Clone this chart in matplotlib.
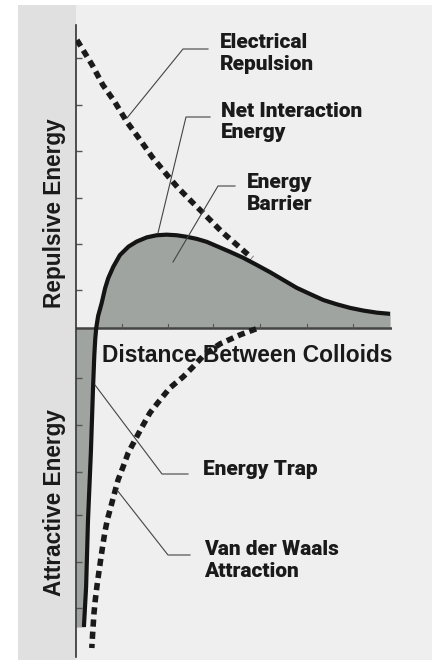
import matplotlib
matplotlib.use('Agg')
import matplotlib.pyplot as plt
from matplotlib.patches import Rectangle

# curves (distance 0-100, energy in arbitrary units)
rep_x = [0.3, 5.1, 8.5, 12.3, 16.1, 20.3, 24.1, 28.8, 32.3, 37.0, 41.5, 46.2, 50.9, 55.7]
rep_y = [96.0, 87.7, 81.0, 75.3, 68.7, 62.7, 57.0, 51.0, 46.7, 41.7, 37.0, 32.0, 27.7, 23.3]

vdw_x = [57.0, 51.9, 45.6, 40.8, 37.0, 33.9, 29.7, 26.6, 23.4, 20.9, 18.7, 16.5, 14.9, 13.3,
         12.2, 11.0, 9.9, 9.1, 8.4, 7.8, 7.2, 6.6, 6.1, 5.7, 5.3, 5.0]
vdw_y = [-0.3, -2.3, -5.3, -8.7, -13.0, -16.3, -20.0, -24.0, -28.3, -33.0, -37.3, -41.7, -46.3, -50.7,
         -55.0, -59.7, -64.0, -68.3, -73.0, -77.3, -81.7, -86.3, -90.7, -95.0, -101.3, -106.7]

net_x = [2.5, 3.2, 3.8, 4.7, 5.4, 5.8, 6.1, 6.4, 7.0, 8.1, 9.2, 10.2, 11.8, 13.9, 16.6, 19.2, 22.4,
         25.5, 28.7, 31.9, 35.0, 38.2, 41.4, 44.5, 48.7, 52.9, 57.2, 61.4, 65.6, 69.8, 74.1,
         78.3, 82.5, 86.7, 90.9, 95.2, 99.4]
net_y = [-99.7, -86.3, -64.0, -41.7, -19.7, -9.0, -3.5, 0.0, 4.0, 8.2, 13.2, 16.6, 20.4, 24.3, 27.1,
         28.8, 30.2, 30.9, 31.1, 30.9, 30.4, 29.7, 28.7, 27.3, 25.4, 23.4, 21.0, 18.6, 16.0,
         13.4, 11.3, 9.3, 7.9, 6.7, 5.8, 5.1, 4.7]

yticks = [12.7, 28.0, 43.3, 59.0, 74.3, 90.0, -16.7, -32.3, -48.0, -62.3, -78.0, -93.3]
xticks = [14.6, 29.1, 43.4, 58.2, 73.1, 87.7]

W, H = 435, 663
fig = plt.figure(figsize=(W / 100, H / 100), dpi=100, facecolor='white')

def fx(x):
    return x / W

def fy(y):
    return 1 - y / H

# scanned paper background
fig.patches.append(Rectangle((fx(18), fy(660)), fx(414), 655 / H, transform=fig.transFigure,
                             facecolor='#efefef', edgecolor='none', zorder=-5))
fig.patches.append(Rectangle((fx(18), fy(660)), fx(58), 655 / H, transform=fig.transFigure,
                             facecolor='#e0e0e0', edgecolor='none', zorder=-4))

ax = fig.add_axes([76 / W, 6 / H, 316 / W, 632 / H])
ax.set_xlim(0, 100)
ax.set_ylim(-109.7, 101)
ax.patch.set_alpha(0)

for s in ['top', 'right', 'bottom']:
    ax.spines[s].set_visible(False)
ax.spines['left'].set_color('#333333')
ax.spines['left'].set_linewidth(1.2)
ax.set_yticks(yticks)
ax.set_yticklabels([])
ax.set_xticks([])
ax.tick_params(axis='y', direction='in', length=4, width=1, color='#555555')

# shaded regions under the net curve
pos = [i for i, v in enumerate(net_y) if v >= 0]
neg = [i for i, v in enumerate(net_y) if v <= 0]
ax.fill_between([net_x[i] for i in pos], [net_y[i] for i in pos], 0,
                color='#a0a4a0', linewidth=0, zorder=1)
ax.fill_betweenx([net_y[i] for i in neg], 0, [net_x[i] for i in neg],
                 color='#a0a4a0', linewidth=0, zorder=1)

ax.axhline(0, color='#444444', linewidth=1.8, zorder=2)
for t in xticks:
    ax.plot([t, t], [0, 1.3], color='#555555', linewidth=0.8, zorder=2)

ax.plot(rep_x, rep_y, color='#1a1a1a', linewidth=4, linestyle=(0, (1.3, 0.9)),
        dash_capstyle='butt', zorder=3)
ax.plot(vdw_x, vdw_y, color='#1a1a1a', linewidth=4, linestyle=(0, (1.3, 0.9)),
        dash_capstyle='butt', zorder=3)
ax.plot(net_x, net_y, color='#141414', linewidth=3, solid_joinstyle='round',
        solid_capstyle='butt', zorder=4)

# leader lines (figure pixels)
leaders = [
    [(127, 118), (183, 49), (208, 49)],
    [(158, 233), (186, 117), (210, 117)],
    [(173, 262), (218, 186), (235, 186)],
    [(95, 385), (162, 474), (188, 474)],
    [(117, 490), (168, 555), (190, 555)],
]
for pts in leaders:
    fig.add_artist(plt.Line2D([fx(p[0]) for p in pts], [fy(p[1]) for p in pts],
                              transform=fig.transFigure, color='#444444', linewidth=0.8, zorder=5))

narrow = ['Roboto', 'DejaVu Sans']
labels = [
    ('Electrical', 220, 48), ('Repulsion', 220, 70),
    ('Net Interaction', 221, 117), ('Energy', 221, 138),
    ('Energy', 247, 188), ('Barrier', 247, 210),
    ('Energy Trap', 203, 475),
    ('Van der Waals', 204, 555), ('Attraction', 204, 577),
]
for txt, x, y in labels:
    fig.text(fx(x), fy(y), txt, family=narrow, fontweight='heavy', fontsize=15,
             color='#1a1a1a', ha='left', va='baseline')

sans = ['Liberation Sans', 'DejaVu Sans']
fig.text(fx(102), fy(362), 'Distance Between Colloids', family=sans,
         fontweight='bold', fontsize=16.4, color='#1a1a1a', ha='left', va='baseline')

fig.text(fx(61), fy(213), 'Repulsive Energy', family=sans,
         fontweight='bold', fontsize=16.3, color='#1a1a1a', rotation=90,
         rotation_mode='anchor', ha='center', va='baseline')
fig.text(fx(61), fy(503), 'Attractive Energy', family=sans,
         fontweight='bold', fontsize=16.3, color='#1a1a1a', rotation=90,
         rotation_mode='anchor', ha='center', va='baseline')

fig.savefig('out.png', dpi=100, facecolor='white')
